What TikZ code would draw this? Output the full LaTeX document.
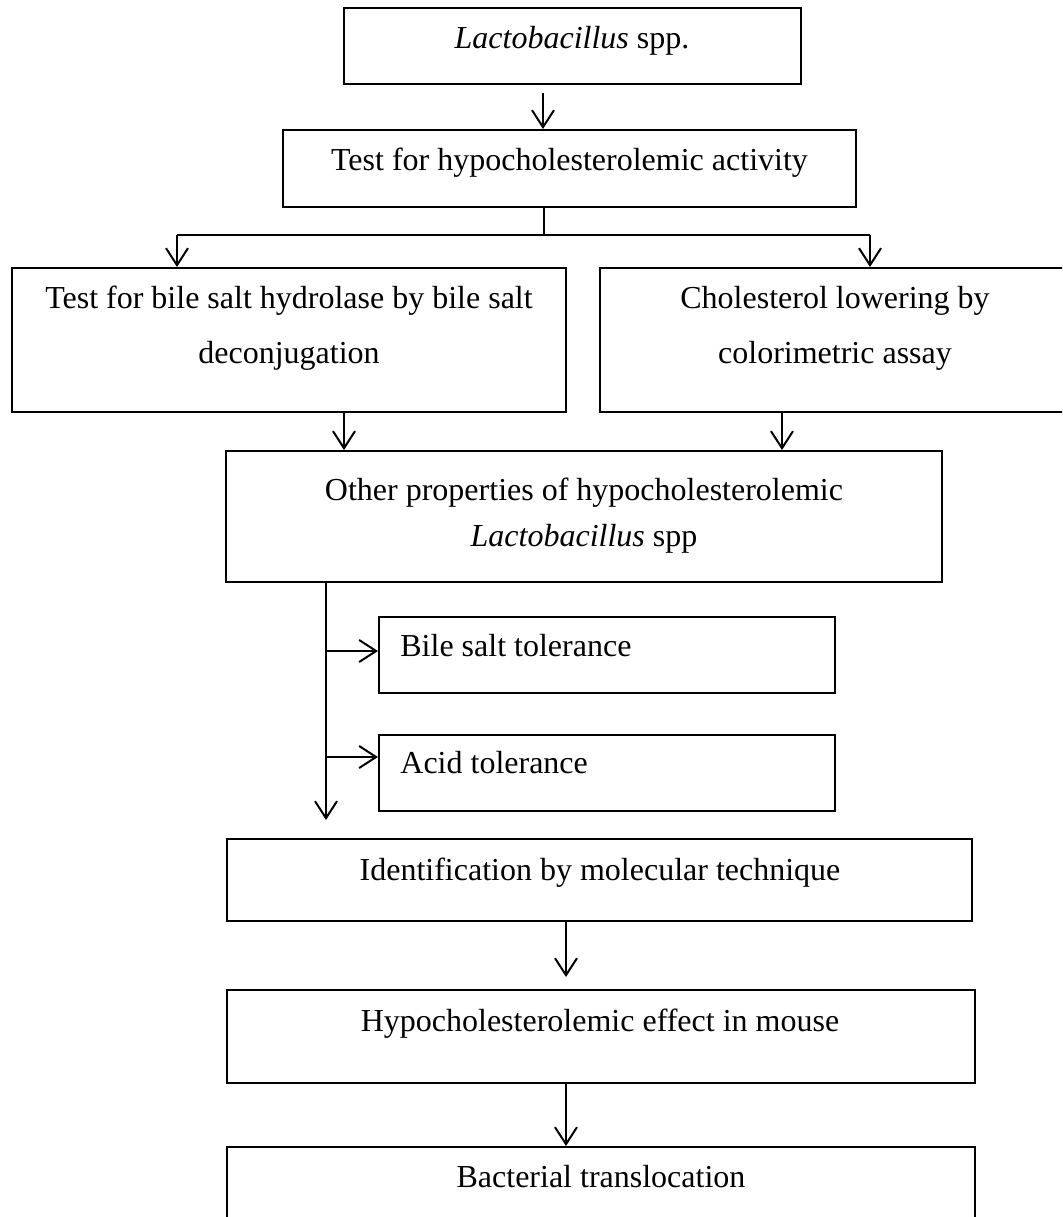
\documentclass[tikz,border=0pt]{standalone}
\usepackage{fontspec}
\setmainfont{Liberation Serif}
\usetikzlibrary{arrows.meta}
\tikzset{
  boxst/.style={draw=black, line width=1pt, rectangle, inner sep=0pt, fill=none},
  txt/.style={inner sep=0pt, anchor=base, font=\fontsize{16pt}{19pt}\selectfont},
  conn/.style={draw=black, line width=1pt},
  arr/.style={conn, -{Straight Barb[length=8.5pt,width=11pt,line width=1pt]}}
}
\begin{document}
\begin{tikzpicture}[x=0.5pt, y=-0.5pt]
\useasboundingbox (0,0) rectangle (1062,1217);
\clip (0,0) rectangle (1062,1217);
% boxes
\node[boxst, minimum width=228.5pt, minimum height=38pt] (b1) at (572.5,46) {};
\node[boxst, minimum width=286.5pt, minimum height=38.5pt] (b2) at (569.5,168.5) {};
\node[boxst, minimum width=277pt, minimum height=72pt] (b3l) at (289,340) {};
\node[boxst, minimum width=235pt, minimum height=72pt] (b3r) at (835,340) {};
\node[boxst, minimum width=358pt, minimum height=65.5pt] (b4) at (584,516.5) {};
\node[boxst, minimum width=228pt, minimum height=38pt] (bile) at (607,655) {};
\node[boxst, minimum width=228pt, minimum height=38pt] (acid) at (607,773) {};
\node[boxst, minimum width=372.5pt, minimum height=41pt] (ident) at (599.5,880) {};
\node[boxst, minimum width=374pt, minimum height=46.5pt] (hyp) at (601,1036.5) {};
\node[boxst, minimum width=374pt, minimum height=60pt] (bact) at (601,1207) {};
% texts
\node[txt] (t1) at (572,48) {\textit{Lactobacillus} spp.};
\node[txt] (t2) at (569.5,170) {Test for hypocholesterolemic activity};
\node[txt] (t3a) at (289,308) {Test for bile salt hydrolase by bile salt};
\node[txt] (t3b) at (289,363) {deconjugation};
\node[txt] (t4a) at (835,308) {Cholesterol lowering by};
\node[txt] (t4b) at (835,363) {colorimetric assay};
\node[txt] (t5a) at (584,500) {Other properties of hypocholesterolemic};
\node[txt] (t5b) at (584,546) {\textit{Lactobacillus} spp};
\node[txt, anchor=base west] (t6) at (400,656) {Bile salt tolerance};
\node[txt, anchor=base west] (t7) at (400,773) {Acid tolerance};
\node[txt] (t8) at (600,880) {Identification by molecular technique};
\node[txt] (t9) at (600,1031) {Hypocholesterolemic effect in mouse};
\node[txt] (t10) at (601,1187) {Bacterial translocation};
% connector coordinates
\coordinate (c1) at (543,93);
\coordinate (s1) at (544,235);
\coordinate (sl) at (177,235);
\coordinate (sr) at (870,235);
\coordinate (d1) at (344,412);
\coordinate (d2) at (782,412);
\coordinate (v0) at (326,582);
\coordinate (vb) at (326,651);
\coordinate (va) at (326,757);
\coordinate (vend) at (326,820);
\coordinate (e1) at (566,921);
\coordinate (e2) at (566,1083);
% connectors
\draw[arr] (c1) -- (c1 |- b2.north);
\draw[conn] (s1 |- b2.south) -- (s1);
\draw[conn] (sl) -- (sr);
\draw[arr] (sl) -- (sl |- b3l.north);
\draw[arr] (sr) -- (sr |- b3r.north);
\draw[arr] (d1) -- (d1 |- b4.north);
\draw[arr] (d2) -- (d2 |- b4.north);
\draw[arr] (v0) -- (vend);
\draw[arr] (vb) -- (vb -| bile.west);
\draw[arr] (va) -- (va -| acid.west);
\draw[arr] (e1) -- ([yshift=6pt]e1 |- hyp.north);
\draw[arr] (e2) -- (e2 |- bact.north);
\end{tikzpicture}
\end{document}
